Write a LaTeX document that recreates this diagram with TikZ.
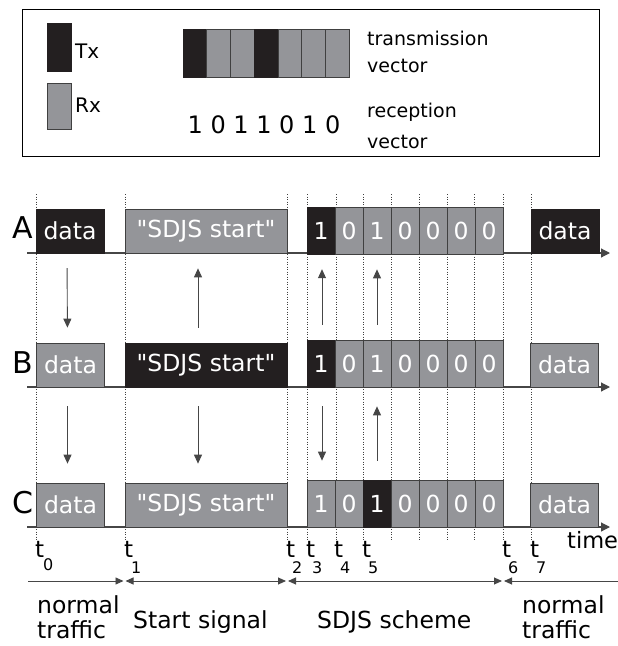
\documentclass[tikz,border=0pt]{standalone}
\usepackage{fontspec}
\setmainfont{DejaVu Sans}
\usepackage{tikz}
\usetikzlibrary{arrows.meta}
\definecolor{txblack}{RGB}{35,31,32}
\definecolor{rxgray}{RGB}{148,149,153}
\definecolor{linegray}{RGB}{70,70,70}
\tikzset{
  tx/.style={
    shape=rectangle,
    fill=txblack,
    draw=txblack,
    text=white,
    inner sep=0pt,
    font=\fontsize{23.5}{26}\selectfont,
  },
  rx/.style={
    shape=rectangle,
    fill=rxgray,
    draw=black!75,
    line width=0.7pt,
    text=white,
    inner sep=0pt,
    font=\fontsize{23.5}{26}\selectfont,
  },
  data/.style={minimum width=68pt, minimum height=44pt},
  start/.style={minimum width=162pt, minimum height=44pt},
  cell/.style={minimum width=28pt, minimum height=47pt},
  key/.style={minimum width=23.7pt, minimum height=48pt},
  rowname/.style={font=\fontsize{30}{30}\selectfont, inner sep=0pt, anchor=base},
  legendtext/.style={font=\fontsize{19}{27}\selectfont, inner sep=0pt, align=left, anchor=base west},
  tname/.style={font=\fontsize{23}{23}\selectfont, inner sep=0pt, anchor=base west},
  tsub/.style={font=\fontsize{16}{16}\selectfont, inner sep=0pt, anchor=base west},
  phasename/.style={font=\fontsize{23.5}{25}\selectfont, inner sep=0pt, align=left, anchor=base west},
  axis/.style={draw=linegray, line width=1.2pt, -{Triangle[length=9pt,width=9pt]}},
  guide/.style={draw=black!75, line width=0.7pt, dash pattern=on 1pt off 1.5pt},
  flow/.style={draw=linegray, line width=0.9pt, -{Triangle[length=9pt,width=8pt]}},
  flowAB/.style={flow, shorten <=15pt, shorten >=15pt},
  flowBC/.style={flow, shorten <=19pt, shorten >=19pt},
  phase/.style={draw=linegray, line width=0.9pt},
}

\begin{document}
\begin{tikzpicture}[x=1pt, y=-1pt]
\useasboundingbox (0,0) rectangle (618,646);

% Legend
\node[draw, line width=0.8pt, minimum width=577pt, minimum height=147pt, inner sep=0pt] (legend) at (310.5,82.5) {};
\node[tx, minimum width=24pt, minimum height=48pt] (keytx) at (59,47) {};
\node[rx, minimum width=24pt, minimum height=46pt] (keyrx) at (59,106) {};
\node[legendtext, font=\fontsize{20}{27}\selectfont] (labeltx) at (75,58) {Tx};
\node[legendtext, font=\fontsize{20}{27}\selectfont] (labelrx) at (75,112) {Rx};
\node[tx, key] (v1) at (194.9,53) {};
\node[rx, key] (v2) at (218.6,53) {};
\node[rx, key] (v3) at (242.3,53) {};
\node[tx, key] (v4) at (266.0,53) {};
\node[rx, key] (v5) at (289.7,53) {};
\node[rx, key] (v6) at (313.4,53) {};
\node[rx, key] (v7) at (337.1,53) {};
\node[legendtext] (labeltv) at (367,72) {transmission\\vector};
\node[font=\fontsize{24}{24}\selectfont, inner sep=0pt, anchor=base] (bits) at (264,133) {1 0 1 1 0 1 0};
\node[legendtext] (labelrv) at (367,148) {reception\\[4pt]vector};

% Time lines
\draw[guide] (36,194) -- (36,540);
\draw[guide] (125,194) -- (125,540);
\draw[guide] (287,194) -- (287,540);
\draw[guide] (307,194) -- (307,540);
\draw[guide] (336,194) -- (336,540);
\draw[guide] (363,194) -- (363,540);
\draw[guide] (391,194) -- (391,540);
\draw[guide] (419,194) -- (419,540);
\draw[guide] (447,194) -- (447,540);
\draw[guide] (474,194) -- (474,540);
\draw[guide] (503,194) -- (503,540);
\draw[guide] (531,194) -- (531,540);

% Axes
\coordinate (axisA) at (27,253);
\coordinate (endA) at (610,253);
\coordinate (axisB) at (27,387);
\coordinate (endB) at (610,387);
\coordinate (axisC) at (27,527);
\coordinate (endC) at (610,527);
\draw[axis] (axisA) -- (endA);
\draw[axis] (axisB) -- (endB);
\draw[axis] (axisC) -- (endC);

% Node A
\node[rowname] (rowA) at (23,238) {A};
\node[tx, data] (dataA1) at (70,231) {data};
\node[rx, start] (startA) at (206,231) {\textquotedbl SDJS start\textquotedbl};
\node[tx, cell] (a1) at (321,230.5) {1};
\node[rx, cell] (a2) at (349,230.5) {0};
\node[rx, cell] (a3) at (377,230.5) {1};
\node[rx, cell] (a4) at (405,230.5) {0};
\node[rx, cell] (a5) at (433,230.5) {0};
\node[rx, cell] (a6) at (461,230.5) {0};
\node[rx, cell] (a7) at (489,230.5) {0};
\node[tx, data] (dataA2) at (565,231) {data};

% Node B
\node[rowname] (rowB) at (23,373) {B};
\node[rx, data] (dataB1) at (70.5,365) {data};
\node[tx, start] (startB) at (206,365) {\textquotedbl SDJS start\textquotedbl};
\node[tx, cell] (b1) at (321,363.5) {1};
\node[rx, cell] (b2) at (349,363.5) {0};
\node[rx, cell] (b3) at (377,363.5) {1};
\node[rx, cell] (b4) at (405,363.5) {0};
\node[rx, cell] (b5) at (433,363.5) {0};
\node[rx, cell] (b6) at (461,363.5) {0};
\node[rx, cell] (b7) at (489,363.5) {0};
\node[rx, data] (dataB2) at (564.5,365) {data};

% Node C
\node[rowname] (rowC) at (23,513) {C};
\node[rx, data] (dataC1) at (70.5,505) {data};
\node[rx, start] (startC) at (206,505) {\textquotedbl SDJS start\textquotedbl};
\node[rx, cell] (c1) at (321,503.5) {1};
\node[rx, cell] (c2) at (349,503.5) {0};
\node[tx, cell] (c3) at (377,503.5) {1};
\node[rx, cell] (c4) at (405,503.5) {0};
\node[rx, cell] (c5) at (433,503.5) {0};
\node[rx, cell] (c6) at (461,503.5) {0};
\node[rx, cell] (c7) at (489,503.5) {0};
\node[rx, data] (dataC2) at (564.5,505) {data};

% Messages
\draw[flowAB] ([xshift=-3pt]dataA1.south) -- ([xshift=-3pt]dataB1.north);
\draw[flowBC] ([xshift=-3pt]dataB1.south) -- ([xshift=-3pt]dataC1.north);
\draw[flowAB] ([xshift=-8pt]startB.north) -- ([xshift=-8pt]startA.south);
\draw[flowBC] ([xshift=-8pt]startB.south) -- ([xshift=-8pt]startC.north);
\draw[flowAB] ([xshift=1pt]b1.north) -- ([xshift=1pt]a1.south);
\draw[flowBC] ([xshift=1pt]b1.south) -- ([xshift=1pt]c1.north);
\draw[flowAB] (b3.north) -- (a3.south);
\draw[flowBC] (c3.north) -- (b3.south);

% Instants
\node[tname] (t0) at (35,557) {t};
\node[tsub] (t0sub) at (43,570) {0};
\node[tname] (t1) at (124,557) {t};
\node[tsub] (t1sub) at (131,573) {1};
\node[tname] (t2) at (286,557) {t};
\node[tsub] (t2sub) at (292,573) {2};
\node[tname] (t3) at (306,557) {t};
\node[tsub] (t3sub) at (312,573) {3};
\node[tname] (t4) at (334,557) {t};
\node[tsub] (t4sub) at (340,573) {4};
\node[tname] (t5) at (362,557) {t};
\node[tsub] (t5sub) at (368,573) {5};
\node[tname] (t6) at (502,557) {t};
\node[tsub] (t6sub) at (508,573) {6};
\node[tname] (t7) at (530,557) {t};
\node[tsub] (t7sub) at (536,573) {7};
\node[tname, font=\fontsize{22.5}{22.5}\selectfont] (time) at (567,548) {time};

% Phases
\coordinate (ph0) at (28,581);
\coordinate (ph1) at (124.5,581);
\coordinate (ph2) at (287,581);
\coordinate (ph3) at (503,581);
\coordinate (ph4) at (618,581);
\draw[phase, -{Triangle[length=8pt,width=7pt]}, shorten >=1pt] (ph0) -- (ph1);
\draw[phase, {Triangle[length=8pt,width=7pt]}-{Triangle[length=8pt,width=7pt]}, shorten <=1pt, shorten >=1pt] (ph1) -- (ph2);
\draw[phase, {Triangle[length=8pt,width=7pt]}-{Triangle[length=8pt,width=7pt]}, shorten <=1pt, shorten >=1pt] (ph2) -- (ph3);
\draw[phase, {Triangle[length=8pt,width=7pt]}-, shorten <=1pt] (ph3) -- (ph4);
\node[phasename] (normal1) at (37,638) {normal\\traffic};
\node[phasename] (signal) at (133,628) {Start signal};
\node[phasename] (scheme) at (317,628) {SDJS scheme};
\node[phasename] (normal2) at (522,638) {normal\\traffic};

\end{tikzpicture}
\end{document}
